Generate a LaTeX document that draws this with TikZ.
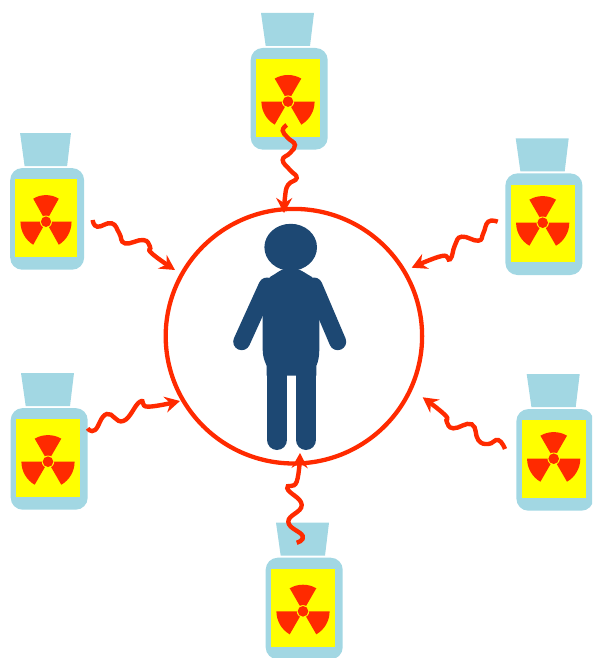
\documentclass[tikz,border=0pt]{standalone}
\usepackage{tikz}
\usetikzlibrary{arrows.meta,positioning,calc,shapes.geometric}
\definecolor{vialblue}{RGB}{162,215,227}
\definecolor{warnyellow}{RGB}{255,255,0}
\definecolor{hazardred}{RGB}{255,42,0}
\definecolor{personblue}{RGB}{29,72,115}
\tikzset{
  ringnode/.style={ellipse,draw=hazardred,line width=4.3pt,minimum width=256.4pt,minimum height=254.6pt,inner sep=0pt},
  wave/.style={-{Stealth[length=15pt,width=16pt,inset=5pt]},draw=hazardred,line width=4.4pt},
  limb/.style={draw=personblue,line cap=round},
  pics/vial/.style={code={
    \begin{scope}[y=1pt]
      \fill[vialblue] (-27,88.6) -- (26,88.6) -- (22,55.6) -- (-22.3,55.6) -- cycle;
      \fill[vialblue,rounded corners=12pt] (-37.3,-48) rectangle (39.7,53.6);
      \fill[warnyellow] (-32,-35.4) rectangle (32,42.3);
      \begin{scope}[yshift=#1pt]
        \fill[hazardred] (0,0) -- (60:26.6) arc[start angle=60,end angle=120,radius=26.6] -- cycle;
        \fill[hazardred] (0,0) -- (180:26.6) arc[start angle=180,end angle=240,radius=26.6] -- cycle;
        \fill[hazardred] (0,0) -- (300:26.6) arc[start angle=300,end angle=360,radius=26.6] -- cycle;
        \fill[warnyellow] (0,0) circle[radius=6.2];
        \fill[hazardred] (0,0) circle[radius=5.3];
      \end{scope}
    \end{scope}
  }}
}
\begin{document}
\begin{tikzpicture}[x=1pt,y=-1pt]
  \clip (0,0) rectangle (592,658);
  \pic (vialtop) at (288,101.6) {vial=0};
  \pic (vialbottom) at (303,611.3) {vial=0};
  \pic (vialrighttop) at (542.7,227) {vial=4.3};
  \pic (vialrightbottom) at (553.7,462.7) {vial=4};
  \pic (vialleftbottom) at (48,461.7) {vial=0};
  \pic[xscale=.96] (viallefttop) at (46,221.7) {vial=0};

  \node[ringnode] (ring) at (293.9,336.2) {};

  % person
  \fill[personblue] (290.7,247.3) ellipse[x radius=26.3,y radius=23.5];
  \fill[personblue] (290.7,268) .. controls (281,268) and (276,274) .. (270,277)
    .. controls (264,285) and (262.7,295) .. (262.7,305) -- (262.7,350)
    .. controls (262.7,357) and (265,362) .. (266.7,366) -- (266.7,375.7) -- (316.3,375.7) -- (316.3,366)
    .. controls (318,362) and (319.3,357) .. (319.3,350) -- (319.3,305)
    .. controls (319.3,295) and (318,285) .. (312,277)
    .. controls (306,274) and (300,268) .. (290.7,268) -- cycle;
  \draw[limb,line width=17pt] (267,286) -- (241.7,341.7);
  \draw[limb,line width=17pt] (314,286) -- (337.7,341.7);
  \draw[limb,line width=20.6pt] (277,365) -- (277,439.7);
  \draw[limb,line width=20.6pt] (306,365) -- (306,439.7);

  \coordinate (starttop) at (286.7,125);
  \coordinate (endtop) at (284,213);
  \coordinate (startbottom) at (296.7,542.7);
  \coordinate (endbottom) at (300,453);
  \coordinate (startlefttop) at (92.7,220);
  \coordinate (endlefttop) at (175,270);
  \coordinate (startrighttop) at (497.7,221.7);
  \coordinate (endrighttop) at (411.7,267.7);
  \coordinate (startleftbottom) at (87.7,428.3);
  \coordinate (endleftbottom) at (180,401);
  \coordinate (startrightbottom) at (505,449);
  \coordinate (endrightbottom) at (422.7,397.3);

  \draw[wave] plot[smooth,tension=.8] coordinates {(starttop) (282.7,130.7) (288,138) (295,145) (290,153) (282.7,160) (290,170) (296.7,178) (288,185) (285,197) (endtop)};
  \draw[wave] plot[smooth,tension=.8] coordinates {(startbottom) (302.7,536) (288.3,521.7) (301.7,505) (287.3,488.3) (296.7,481.7) (endbottom)};
  \draw[wave] plot[smooth,tension=.8] coordinates {(startlefttop) (97.3,226.7) (111.7,223.3) (119.3,233.3) (125,243.3) (143.3,240) (150,246.7) (151.7,253.3) (endlefttop)};
  \draw[wave] plot[smooth,tension=.8] coordinates {(startrighttop) (488.3,221.7) (483.3,233.3) (478.3,240.7) (461.7,236.7) (455,245) (450,259.3) (441.7,256) (endrighttop)};
  \draw[wave] plot[smooth,tension=.8] coordinates {(startleftbottom) (95,430) (106.7,414) (123.3,421) (140,401.7) (148.3,406.7) (endleftbottom)};
  \draw[wave] plot[smooth,tension=.8] coordinates {(startrightbottom) (498.3,440) (488.3,444) (478.3,440) (471.7,424.3) (453.3,428.3) (446.7,421.7) (445,415) (endrightbottom)};
\end{tikzpicture}
\end{document}
